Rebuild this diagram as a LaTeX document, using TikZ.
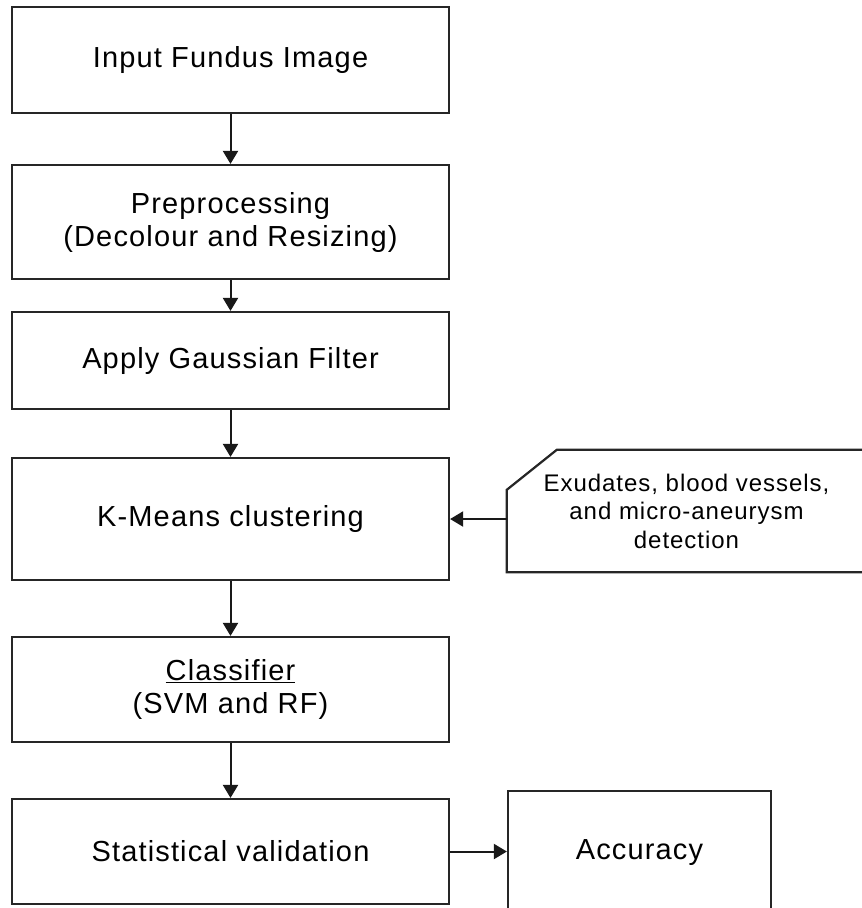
\documentclass[tikz,border=0pt]{standalone}
\usepackage{fontspec}
\setmainfont{Liberation Sans}[LetterSpace=4]
\usetikzlibrary{arrows.meta}
\begin{document}
\begin{tikzpicture}[x=1pt,y=-1pt,
  box/.style={draw=black!85, line width=2.2pt, minimum width=437pt, inner sep=0pt, align=center,
    font=\fontsize{29}{33}\selectfont},
  conn/.style={draw=black!90, line width=2pt, -{Triangle[width=15pt,length=13pt]}}]
\useasboundingbox (0,0) rectangle (862,908);
\node[box, minimum height=106pt] (input) at (230.5,60) {Input Fundus Image};
\node[box, minimum height=114pt] (pre) at (230.5,222) {Preprocessing\\(Decolour and Resizing)};
\node[box, minimum height=97pt] (gauss) at (230.5,360.5) {\raisebox{-6pt}{Apply Gaussian Filter}};
\node[box, minimum height=122pt] (kmeans) at (230.5,519) {K-Means clustering};
\node[box, minimum height=105pt] (clf) at (230.5,689.5) {\underline{Classifier}\\(SVM and RF)};
\node[box, minimum height=105pt] (stat) at (230.5,851.5) {Statistical validation};
\node[box, minimum width=263pt, minimum height=124pt] (acc) at (639.5,853) {Accuracy};
\node[minimum width=359pt, minimum height=122pt, inner sep=0pt, align=center,
  font=\fontsize{24}{28.5}\selectfont] (note) at (686.5,511) {Exudates, blood vessels,\\and micro-aneurysm\\detection};
\draw[draw=black!85, line width=2.2pt] (note.south east) -- (note.south west) -- ([yshift=-40pt]note.north west) -- ([xshift=50pt]note.north west) -- (note.north east);
\draw[conn] (input) -- (pre);
\draw[conn] (pre) -- (gauss);
\draw[conn] (gauss) -- (kmeans);
\draw[conn] (kmeans) -- (clf);
\draw[conn] (clf) -- (stat);
\draw[conn] (stat.east) -- (stat.east -| acc.west);
\draw[conn] (kmeans.east -| note.west) -- (kmeans.east);
\end{tikzpicture}
\end{document}
